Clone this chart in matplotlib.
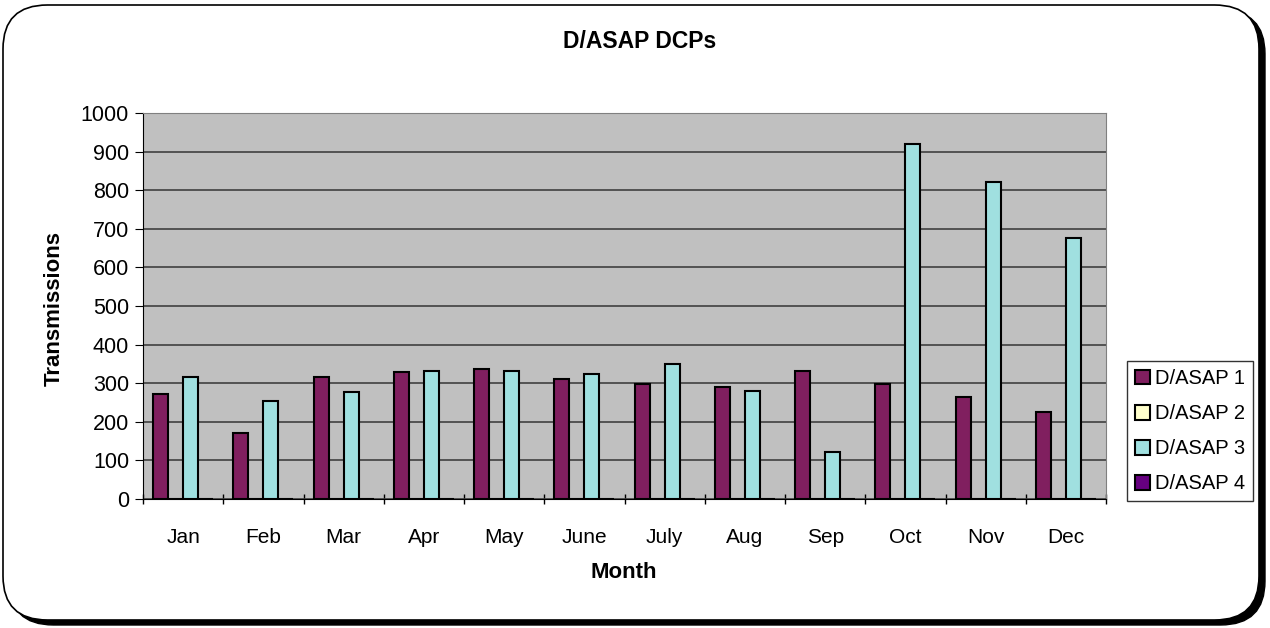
import numpy as np
import matplotlib
matplotlib.use("Agg")
import matplotlib.pyplot as plt
from matplotlib.patches import FancyBboxPatch

plt.rcParams['font.family'] = ['Liberation Sans', 'DejaVu Sans']

months = ['Jan', 'Feb', 'Mar', 'Apr', 'May', 'June', 'July', 'Aug', 'Sep', 'Oct', 'Nov', 'Dec']
dasap1 = [271, 172, 317, 328, 338, 312, 297, 291, 332, 297, 265, 225]
dasap2 = [0, 0, 0, 0, 0, 0, 0, 0, 0, 0, 0, 0]
dasap3 = [317, 255, 276, 332, 332, 323, 349, 281, 121, 919, 820, 675]
dasap4 = [0, 0, 0, 0, 0, 0, 0, 0, 0, 0, 0, 0]

series = [
    ('D/ASAP 1', dasap1, '#801f5f'),
    ('D/ASAP 2', dasap2, '#ffffcc'),
    ('D/ASAP 3', dasap3, '#a0e0e0'),
    ('D/ASAP 4', dasap4, '#660080'),
]

fig = plt.figure(figsize=(12.7, 6.28), dpi=100)

# rounded border with shadow (drawn beneath the axes)
shadow = FancyBboxPatch((9 / 1270, 3 / 628), 1256 / 1270, 615 / 628,
                        boxstyle="round,pad=0,rounding_size=0.035",
                        transform=fig.transFigure, facecolor='black',
                        edgecolor='black', linewidth=1, mutation_aspect=2.0,
                        zorder=-10)
fig.patches.append(shadow)
frame = FancyBboxPatch((3 / 1270, 8 / 628), 1256 / 1270, 615 / 628,
                       boxstyle="round,pad=0,rounding_size=0.035",
                       transform=fig.transFigure, facecolor='white',
                       edgecolor='black', linewidth=1.2, mutation_aspect=2.0,
                       zorder=-9)
fig.patches.append(frame)

ax = fig.add_axes([143 / 1270, 1 - 499 / 628, 963 / 1270, 386 / 628])
ax.set_facecolor('#c0c0c0')

x = np.arange(len(months))
w = 0.187
for i, (name, vals, col) in enumerate(series):
    ax.bar(x + (i - 1.5) * w, vals, width=w, color=col, edgecolor='black',
           linewidth=1.5, label=name, zorder=3)

ax.set_xlim(-0.5, len(months) - 0.5)
ax.set_ylim(0, 1000)
ax.set_yticks(np.arange(0, 1001, 100))
ax.yaxis.grid(True, color='#404040', linewidth=1.2, zorder=0)
ax.set_axisbelow(True)

ax.set_xticks(x)
ax.set_xticklabels(months)
ax.set_xticks(np.arange(-0.5, len(months)), minor=True)
ax.tick_params(axis='x', which='major', length=0, pad=21, labelsize=15)
ax.tick_params(axis='x', which='minor', length=7, direction='inout', width=1)
ax.tick_params(axis='y', length=6, direction='out', labelsize=15.5, pad=4)

for s in ['top', 'right']:
    ax.spines[s].set_color('#808080')
for s in ['left', 'bottom']:
    ax.spines[s].set_color('black')

fig.text(640 / 1270, 1 - 42 / 628, 'D/ASAP DCPs', fontsize=16.5, fontweight='bold',
         ha='center', va='center')
fig.text(624 / 1270, 1 - 573 / 628, 'Month', fontsize=16, fontweight='bold',
         ha='center', va='center')
fig.text(54 / 1270, 1 - 309 / 628, 'Transmissions', fontsize=16, fontweight='bold',
         ha='center', va='center', rotation=90)

leg = fig.legend(loc='upper left', bbox_to_anchor=(1127 / 1270, 1 - 361 / 628),
                 fontsize=14.5, frameon=True, fancybox=False, edgecolor='black',
                 handlelength=0.75, handleheight=0.75, handletextpad=0.25,
                 labelspacing=0.8, borderpad=0.4, borderaxespad=0)
leg.get_frame().set_linewidth(1)

fig.savefig('out.png', dpi=100)
